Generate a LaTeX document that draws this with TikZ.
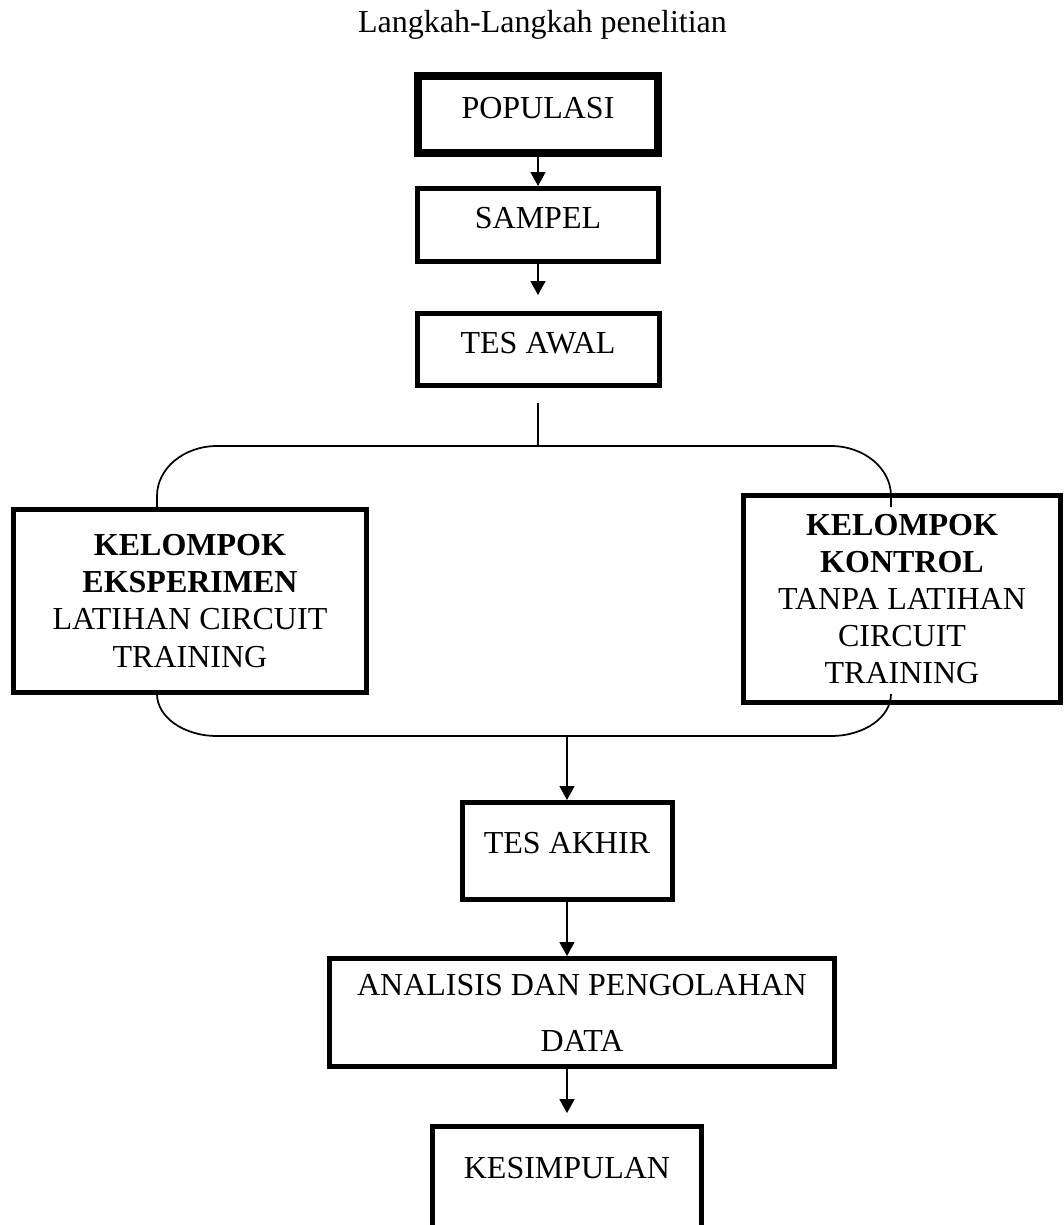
\documentclass[tikz,border=0pt]{standalone}
\usepackage{fontspec}
\setmainfont{Liberation Serif}
\usepackage{tikz}
\usetikzlibrary{arrows.meta}

\begin{document}
\begin{tikzpicture}[x=0.375pt, y=-0.375pt, >={Triangle[width=5.6pt,length=5.2pt]},
    kotak/.style={draw, line width=1.875pt, inner sep=0pt, align=center, font=\fontsize{12}{13.9}\selectfont},
    kotaksatu/.style={kotak, text depth=5.25pt},
    panah/.style={->, line width=0.5pt}]
    \useasboundingbox (0,0) rectangle (1063,1225);

    % Judul
    \node[font=\fontsize{12}{13.9}\selectfont, anchor=base] (judul) at (542.5,32) {Langkah-Langkah penelitian};

    % Kotak atas
    \node[kotaksatu, line width=3pt, minimum width=90pt, minimum height=28.875pt] (populasi) at (538,114.5) {POPULASI};
    \node[kotaksatu, minimum width=90.4pt, minimum height=27.4pt] (sampel) at (538,225) {SAMPEL};
    \node[kotaksatu, minimum width=90.75pt, minimum height=27pt] (tesawal) at (538,349.5) {TES AWAL};

    % Dua kelompok
    \node[kotak, minimum width=132.4pt, minimum height=68.6pt] (eksperimen) at (190,601) {\textbf{KELOMPOK}\\\textbf{EKSPERIMEN}\\LATIHAN CIRCUIT\\TRAINING};
    \node[kotak, minimum width=118.9pt, minimum height=77.6pt] (kontrol) at (902,599) {\textbf{KELOMPOK}\\\textbf{KONTROL}\\TANPA LATIHAN\\CIRCUIT\\TRAINING};

    % Kotak bawah
    \node[kotaksatu, text depth=6.4pt, minimum width=78.75pt, minimum height=36.4pt] (tesakhir) at (567,851) {TES AKHIR};
    \node[kotak, font=\fontsize{12}{21}\selectfont, minimum width=189.4pt, minimum height=40.5pt] (analisis) at (582,1012.5) {ANALISIS DAN PENGOLAHAN\\DATA};
    \node[kotaksatu, text depth=9.4pt, minimum width=100.9pt, minimum height=40.1pt] (kesimpulan) at (567,1180) {KESIMPULAN};

    % Panah atas
    \draw[panah] (populasi) -- (sampel);
    \draw[panah, shorten >=6pt] (sampel) -- (tesawal);
    \coordinate (cabang) at (538,446);
    \draw[line width=0.4pt, shorten <=5.5pt] (tesawal) -- (cabang);

    % Kurung cabang
    \draw[line width=0.65pt] (157,508) -- (157,496)
        arc[start angle=180, end angle=90, x radius=22.5pt, y radius=18.75pt] -- (831,446)
        arc[start angle=90, end angle=0, x radius=22.5pt, y radius=18.75pt] -- (891,507);
    \draw[line width=0.65pt] (157,694)
        arc[start angle=180, end angle=270, x radius=22.5pt, y radius=15.75pt] -- (831,736)
        arc[start angle=270, end angle=360, x radius=22.5pt, y radius=15.75pt];

    % Panah bawah
    \coordinate (gabung) at (567,736);
    \draw[panah] (gabung) -- (tesakhir);
    \draw[panah] (tesakhir) -- (tesakhir.south |- analisis.north);
    \draw[panah, shorten >=4.1pt] (analisis.south -| kesimpulan.north) -- (kesimpulan);
\end{tikzpicture}
\end{document}
